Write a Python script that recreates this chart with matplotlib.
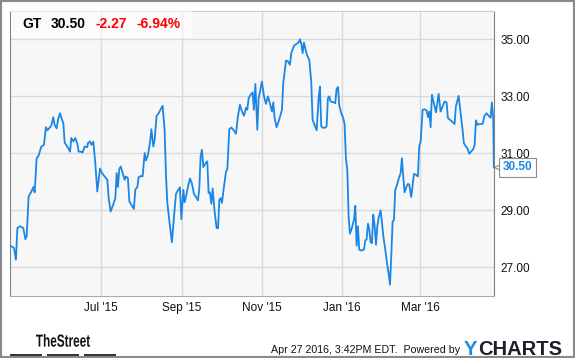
import matplotlib
matplotlib.use("Agg")
import matplotlib.pyplot as plt
import matplotlib.dates as mdates
import pandas as pd
from matplotlib.patches import Rectangle, PathPatch
from matplotlib.ticker import FormatStrFormatter
from matplotlib.transforms import offset_copy, Affine2D
from matplotlib.textpath import TextPath
from matplotlib.font_manager import FontProperties

plt.rcParams['font.family'] = ['Liberation Sans', 'DejaVu Sans']

# GT daily close (days counted from the first point)
start = pd.Timestamp("2015-04-23")
days = [0, 2.8, 4.3, 5.4, 7.4, 9.9, 11.5, 12.5, 14.0, 16.1, 17.6, 18.6, 20.1, 21.6, 23.7,
        25.7, 27.2, 28.3, 29.8, 31.3, 32.8, 33.9, 35.4, 36.4, 37.9, 39.5, 40.5, 41.5, 43.5,
        45.6, 46.6, 48.1, 49.6, 51.2, 52.2, 54.2, 55.2, 56.8, 58.8,
        59.3, 60.8, 61.9, 63.4, 64.9, 66.4, 68.5, 70.0, 72.0, 74.1, 75.1, 76.6, 78.1, 80.2,
        81.2, 82.2, 83.2, 84.3, 85.8, 87.3, 88.3, 89.8, 90.9, 92.4, 94.4, 95.4, 97.0, 98.0,
        100.0, 101.0, 102.6, 103.6, 105.1, 106.6, 107.7, 109.2, 110.2, 111.7, 113.3, 114.8,
        116.3, 117.8, 118.9, 119.9,
        121.9, 123.4, 125.0, 126.5, 128.0, 129.5, 130.6, 132.1, 133.1, 134.6, 135.7, 137.2,
        138.7, 140.2, 141.8, 143.3, 144.3, 145.3, 146.3, 147.4, 148.9, 150.4, 151.4, 152.4,
        153.5, 154.5, 156.0, 157.5, 158.6, 159.6, 160.6, 161.6, 163.1, 164.7, 165.7, 167.2,
        168.7, 170.3, 172.3, 173.8, 175.3, 176.9, 178.4, 179.9, 180.9,
        182.0, 183.5, 185.0, 186.0, 187.1, 188.6, 189.6, 192.1, 193.7, 195.2, 196.7, 198.2,
        199.8, 200.8, 201.8, 203.3, 205.4, 207.4, 208.4, 210.5, 212.0, 213.5, 214.5, 216.6,
        218.6, 220.1, 221.1, 222.2, 223.2, 224.2, 225.2, 226.7, 228.3, 229.8, 230.8, 232.3,
        233.9, 235.4, 236.4, 237.4, 238.5, 240.0, 241.5,
        242.5, 243.5, 244.6, 246.6, 248.1, 249.1, 250.2, 251.2, 252.7, 254.2, 255.2, 256.3,
        257.3, 258.3, 259.3, 260.8, 262.4, 263.4, 264.4, 265.4, 266.4, 268.0, 270.0, 271.0,
        272.0, 273.1, 274.1, 275.1, 276.1, 277.1, 278.1, 279.2, 280.2, 281.2, 282.7, 283.7,
        284.8, 286.3, 287.8, 288.8, 289.9, 290.9, 291.9, 292.9, 293.9, 294.9, 296.5, 298.0,
        299.0, 300.0, 301.0, 302.6,
        303.6, 304.6, 306.1, 308.2, 309.7, 311.2, 312.2, 313.3, 314.8, 316.3, 317.8, 318.9,
        319.9, 320.9, 321.9, 323.4, 325.0, 326.0, 327.0, 328.5, 330.1, 331.6, 333.1, 334.1,
        335.7, 337.2, 339.2, 340.2, 342.3, 343.8, 345.3, 346.3, 347.9, 348.9, 350.4, 351.9,
        353.5, 354.5, 355.5, 356.5, 357.5, 359.1, 360.6, 362.1, 363.6, 365.2, 366.7, 367.7,
        368.7, 369.2]
close = [27.75, 27.67, 27.26, 28.37, 28.43, 28.37, 27.98, 28.08, 29.48, 29.65, 29.81, 29.62,
         30.82, 30.91, 31.23, 31.29, 31.91, 31.80, 31.88, 31.96, 32.26, 31.99, 31.87, 32.17,
         32.40, 32.17, 32.05, 31.37, 31.23, 31.05, 31.53, 31.41, 31.53, 31.33, 31.05, 31.05,
         31.02, 31.23, 31.21,
         31.35, 31.41, 31.29, 31.40, 30.65, 29.65, 30.46, 30.30, 30.18, 30.06, 29.42, 28.95,
         29.13, 29.42, 30.30, 29.81, 30.44, 30.53, 30.30, 30.06, 30.18, 30.12, 29.30, 29.19,
         29.04, 29.71, 29.81, 30.16, 30.20, 30.18, 31.00, 30.74, 30.94, 31.35, 31.84, 31.23,
         31.47, 32.31, 32.40, 32.54, 32.66, 31.82, 30.18, 29.25,
         28.43, 27.87, 28.78, 29.57, 29.69, 29.80, 28.68, 29.71, 29.27, 29.57, 29.83, 30.11,
         29.92, 29.57, 29.46, 29.34, 29.76, 30.88, 31.12, 30.51, 30.63, 30.71, 29.60, 29.62,
         29.22, 29.76, 28.95, 28.37, 28.36, 29.36, 29.42, 29.25, 29.81, 30.36, 30.42, 31.84,
         31.90, 31.82, 31.68, 32.29, 32.70, 32.46, 32.31, 32.59, 32.52,
         32.93, 33.05, 33.13, 32.52, 33.43, 31.82, 32.93, 33.51, 32.99, 32.73, 32.99, 32.75,
         32.46, 32.78, 32.23, 31.91, 32.19, 32.52, 33.46, 34.25, 34.22, 34.10, 34.51, 34.77,
         34.84, 34.88, 35.00, 34.84, 34.51, 34.88, 34.68, 34.42, 34.27, 33.48, 32.17, 31.99,
         31.80, 32.93, 33.34, 31.94, 31.89, 31.89, 31.94,
         32.93, 32.99, 32.81, 32.79, 32.75, 33.25, 33.32, 32.66, 32.40, 32.23, 32.02, 30.77,
         30.42, 28.78, 28.17, 28.37, 28.66, 29.15, 27.75, 28.43, 27.61, 27.58, 27.61, 27.94,
         27.96, 28.52, 28.31, 27.87, 27.84, 28.84, 28.49, 27.78, 28.43, 28.72, 28.99, 28.60,
         28.08, 27.61, 27.08, 26.79, 26.38, 27.43, 28.60, 28.64, 29.71, 29.83, 30.09, 30.30,
         30.82, 30.18, 29.62, 29.83,
         29.92, 29.89, 29.46, 30.27, 30.24, 30.18, 31.23, 31.41, 32.52, 32.54, 32.50, 32.26,
         32.46, 31.91, 33.05, 32.75, 32.43, 32.75, 33.08, 32.46, 32.64, 32.81, 32.78, 32.23,
         32.17, 32.11, 32.02, 32.64, 33.01, 32.43, 31.82, 31.35, 31.23, 31.18, 30.98, 31.06,
         31.14, 31.29, 32.15, 31.99, 32.02, 32.02, 32.03, 32.31, 32.40, 32.31, 32.24, 32.78,
         32.23, 30.50]

tick_dates = ["2015-07-01", "2015-09-01", "2015-11-01", "2016-01-01", "2016-03-01"]
yticks = [27, 29, 31, 33, 35]
ticker_name = "GT"
last_price = "30.50"
change = "-2.27"
change_pct = "-6.94%"
stamp = "Apr 27 2016, 3:42PM EDT.  Powered by"

BLUE = "#1a87e6"
W, H = 575, 358


def fx(px):
    return px / W


def fy(py):
    return 1 - py / H


dates = start + pd.to_timedelta(days, unit="D")

fig = plt.figure(figsize=(W / 100, H / 100), dpi=100)
ax = fig.add_axes([fx(10.3), fy(295.5), (494 - 10.3) / W, (295.5 - 10.7) / H])
ax.set_facecolor("#f7f7f7")
ax.plot(dates, close, color=BLUE, lw=1.3, zorder=3)

ax.set_xlim(start, start + pd.Timedelta(days=369.3))
ax.set_ylim(26, 36)
ax.set_yticks(yticks)
ax.yaxis.set_major_formatter(FormatStrFormatter("%.2f"))
ax.yaxis.tick_right()
ticks = pd.to_datetime(tick_dates)
ax.set_xticks(ticks)
ax.set_xticklabels([t.strftime("%b '%y") for t in ticks])
ax.tick_params(length=0, labelsize=8.5, labelcolor="#111111")
ax.tick_params(axis="x", pad=5)
ax.tick_params(axis="y", pad=4.5)
ax.grid(True, color="#d9d9d9", lw=1)
ax.set_axisbelow(True)
ax.spines["left"].set_color("#808080")
ax.spines["right"].set_color("#808080")
ax.spines["top"].set_color("#cccccc")
ax.spines["bottom"].set_color("#aaaaaa")
for s in ax.spines.values():
    s.set_linewidth(0.8)

# last price callout
last_x = mdates.date2num(dates[-1])
tr = offset_copy(ax.transData, fig=fig, x=3.3, y=0, units="dots")
ax.plot([last_x], [close[-1]], marker="<", ms=4, mfc="white", mec="#8c8c8c", mew=0.8,
        transform=tr, clip_on=False, zorder=4)
ax.annotate(last_price, xy=(last_x, close[-1]), xytext=(8.5, 0), textcoords="offset pixels",
            fontsize=8.5, fontweight="bold", color=BLUE, ha="left", va="center",
            bbox=dict(boxstyle="square,pad=0.3", fc="white", ec="#8c8c8c", lw=0.8),
            annotation_clip=False, zorder=5)

# header
fig.add_artist(Rectangle((fx(10.7), fy(38)), (192 - 10.7) / W, (38 - 10.7) / H,
                         transform=fig.transFigure, fc="white", alpha=0.55, ec="none", zorder=2))
fig.text(fx(22), fy(28.3), ticker_name, fontsize=10, fontweight="bold", va="baseline", zorder=3)
fig.text(fx(51), fy(28.3), last_price, fontsize=10, fontweight="bold", va="baseline", zorder=3)
fig.text(fx(95.5), fy(28.3), change, fontsize=10, fontweight="bold", color="#ff0000",
         va="baseline", zorder=3)
fig.text(fx(136.5), fy(28.3), change_pct, fontsize=10, fontweight="bold", color="#ff0000",
         va="baseline", zorder=3)

# footer: TheStreet logo
tp = TextPath((0, 0), "TheStreet", size=1, prop=FontProperties(family="Liberation Sans", weight="bold"))
ext = tp.get_extents()
sx = 54 / ext.width
sy = 12.8 / ext.height
logo_tr = Affine2D().translate(-ext.x0, -ext.y0).scale(sx, sy).translate(36, H - 346.8)
fig.add_artist(PathPatch(tp, transform=logo_tr, fc="#111111", ec="none"))
for x0, x1 in [(10.3, 42.2), (46.9, 78.8), (83.6, 115.9)]:
    fig.add_artist(Rectangle((fx(x0), fy(357)), (x1 - x0) / W, 3.5 / H,
                             transform=fig.transFigure, fc="#333333", ec="none"))

fig.text(fx(271), fy(350), stamp, fontsize=7.7, color="#111111", va="center")
fig.text(fx(464), fy(355), "Y", fontsize=14.5, fontweight="bold", color="#1a8fdc", va="baseline")
fig.text(fx(478.5), fy(355), "CHARTS", fontsize=14.5, fontweight="bold", color="#1c1f2a",
         va="baseline")

# outer frame
fig.add_artist(Rectangle((0, 0), 1, 1, transform=fig.transFigure, fill=False,
                         ec="#8a8a8a", lw=3))

fig.savefig("out.png", dpi=100)
